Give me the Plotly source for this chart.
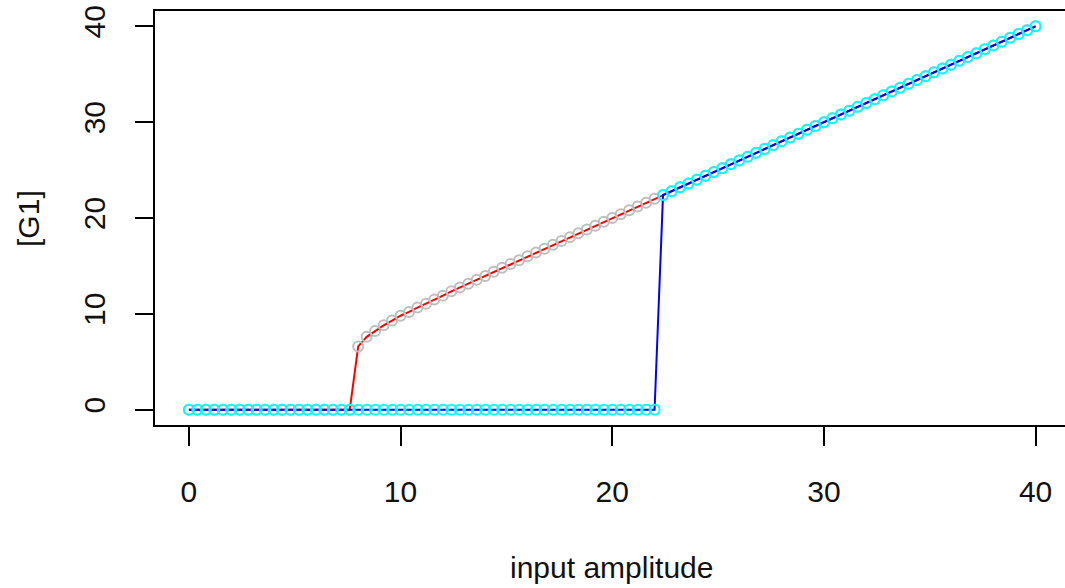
import plotly.graph_objects as go

# Upward sweep (blue line, cyan circles): input 0 -> 40, step 0.4
up_x = [round(i * 0.4, 1) for i in range(101)]
up_y = [0.0] * 56 + [22.4, 22.8, 23.2, 23.6, 24.0, 24.4, 24.8, 25.2, 25.6, 26.0,
                     26.4, 26.8, 27.2, 27.6, 28.0, 28.4, 28.8, 29.2, 29.6, 30.0,
                     30.4, 30.8, 31.2, 31.6, 32.0, 32.4, 32.8, 33.2, 33.6, 34.0,
                     34.4, 34.8, 35.2, 35.6, 36.0, 36.4, 36.8, 37.2, 37.6, 38.0,
                     38.4, 38.8, 39.2, 39.6, 40.0]

# Downward sweep (red line, grey circles): input 40 -> 0
down_x = [round(40 - i * 0.4, 1) for i in range(101)]
down_y = [40.0, 39.6, 39.2, 38.8, 38.4, 38.0, 37.6, 37.2, 36.8, 36.4,
          36.0, 35.6, 35.2, 34.8, 34.4, 34.0, 33.6, 33.2, 32.8, 32.4,
          32.0, 31.6, 31.2, 30.8, 30.4, 30.0, 29.6, 29.2, 28.8, 28.4,
          28.0, 27.6, 27.2, 26.8, 26.4, 26.0, 25.6, 25.2, 24.8, 24.4,
          24.0, 23.6, 23.2, 22.8, 22.4,
          22.0, 21.6, 21.2, 20.8, 20.4, 20.0, 19.6, 19.2, 18.8, 18.4,
          18.0, 17.6, 17.2, 16.8, 16.4, 16.0, 15.6, 15.2, 14.8, 14.4,
          13.95, 13.55, 13.15, 12.75, 12.35, 11.9, 11.5, 11.05, 10.65, 10.2,
          9.8, 9.3, 8.8, 8.2, 7.6, 6.6,
          0.0, 0.0, 0.0, 0.0, 0.0, 0.0, 0.0, 0.0, 0.0, 0.0,
          0.0, 0.0, 0.0, 0.0, 0.0, 0.0, 0.0, 0.0, 0.0, 0.0]

x_ticks = [0, 10, 20, 30, 40]
y_ticks = [0, 10, 20, 30, 40]
x_title = "input amplitude"
y_title = "[G1]"

FONT = "Liberation Sans, Arial, sans-serif"

fig = go.Figure()
fig.add_trace(go.Scatter(
    x=down_x, y=down_y, mode="lines+markers",
    line=dict(color="#FF0000", width=2),
    marker=dict(symbol="circle-open", size=10, color="#BEBEBE",
                line=dict(width=2, color="#BEBEBE")),
    showlegend=False,
))
fig.add_trace(go.Scatter(
    x=up_x, y=up_y, mode="lines+markers",
    line=dict(color="#0000FF", width=2),
    marker=dict(symbol="circle-open", size=10, color="#00FFFF",
                line=dict(width=2, color="#00FFFF")),
    showlegend=False,
))

fig.update_layout(
    width=1065, height=588,
    margin=dict(l=155, r=0, t=11, b=163),
    paper_bgcolor="white", plot_bgcolor="white",
    font=dict(family=FONT, size=30, color="#111111"),
    showlegend=False,
    annotations=[
        dict(text=x_title, xref="paper", yref="paper", x=0.502, y=-0.343,
             xanchor="center", yanchor="middle", showarrow=False,
             font=dict(family=FONT, size=30, color="#111111")),
        dict(text=y_title, xref="paper", yref="paper", x=-0.1396, y=0.5,
             xanchor="center", yanchor="middle", showarrow=False, textangle=-90,
             font=dict(family=FONT, size=30, color="#111111")),
    ],
)
fig.update_xaxes(
    range=[-1.6, 41.39], tickmode="array", tickvals=x_ticks,
    ticktext=[str(v) for v in x_ticks],
    showgrid=False, zeroline=False,
    showline=True, linecolor="black", linewidth=1.5, mirror=True,
    ticks="outside", ticklen=19, tickwidth=1.5, tickcolor="black",
    ticklabelstandoff=20,
    tickfont=dict(family=FONT, size=30, color="#111111"),
)
fig.update_yaxes(
    range=[-1.6, 41.6], tickmode="array", tickvals=y_ticks,
    ticktext=[str(v) for v in y_ticks],
    showgrid=False, zeroline=False,
    showline=True, linecolor="black", linewidth=1.5, mirror=False,
    ticks="outside", ticklen=18, tickwidth=1.5, tickcolor="black",
    tickangle=-90, ticklabelstandoff=18,
    tickfont=dict(family=FONT, size=30, color="#111111"),
)

fig.write_html("out.html")
